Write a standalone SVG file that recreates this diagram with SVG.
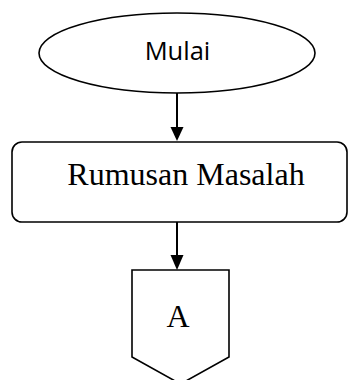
<svg xmlns="http://www.w3.org/2000/svg" width="349" height="380" viewBox="0 0 349 380">
<style>
.shape{fill:#fff;stroke:#000;stroke-width:1.6}
.conn{stroke:#000;stroke-width:2;fill:none}
.sans{font-family:"Open Sans","Liberation Sans",sans-serif;font-size:25.5px;fill:#000}
.serif{font-family:"Liberation Serif","Times New Roman",serif;font-size:32px;fill:#000}
</style>
<rect width="349" height="380" fill="#fff"/>
<g id="mulai">
<ellipse class="shape" cx="177" cy="53" rx="138" ry="40"/>
<text class="sans" x="177.5" y="60" text-anchor="middle">Mulai</text>
</g>
<g id="rumusan">
<rect class="shape" x="12" y="142" width="335" height="80" rx="10" ry="10"/>
<text class="serif" x="186" y="185" text-anchor="middle">Rumusan Masalah</text>
</g>
<g id="a">
<polygon class="shape" points="132,270 229,270 229,357 180.5,384 132,357"/>
<text class="serif" x="178" y="327" text-anchor="middle">A</text>
</g>
<g id="connectors">
<line class="conn" x1="177" y1="93" x2="177" y2="128"/>
<polygon points="170.5,127 183.5,127 177,141" fill="#000"/>
<line class="conn" x1="177" y1="222" x2="177" y2="256"/>
<polygon points="170.5,255 183.5,255 177,270" fill="#000"/>
</g>
</svg>
